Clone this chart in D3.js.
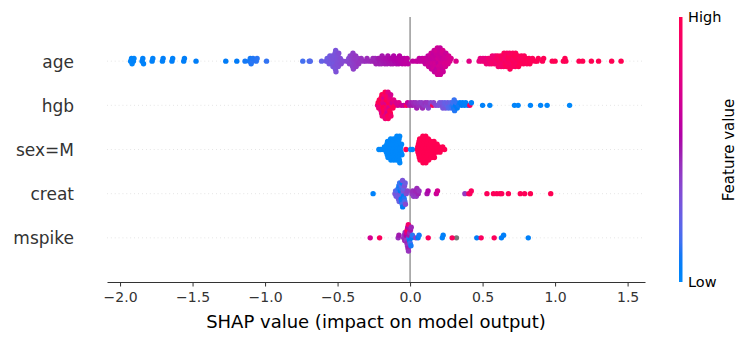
<!DOCTYPE html>
<html lang="en">
<head>
<meta charset="UTF-8">
<title>SHAP summary plot</title>
<script src="https://d3js.org/d3.v7.min.js"></script>
<style>
  body { margin: 0; background: #fff; }
  text { font-family: "DejaVu Sans", sans-serif; }
</style>
</head>
<body>
<div id="chart"></div>
<script>
// features, top row first
const features = ["age", "hgb", "sex=M", "creat", "mspike"];
const xTicks = [-2.0, -1.5, -1.0, -0.5, 0.0, 0.5, 1.0, 1.5];

// each point: [shap value, scaled feature value 0..1, null = missing]
const age = [
  [-1.927, 0.02], [-1.921, 0.03], [-1.917, 0.02], [-1.908, 0.04], [-1.904, 0.03],
  [-1.848, 0.04], [-1.843, 0.05], [-1.838, 0.04],
  [-1.779, 0.05], [-1.774, 0.04], [-1.708, 0.05], [-1.703, 0.06],
  [-1.642, 0.06], [-1.637, 0.05], [-1.561, 0.06], [-1.556, 0.07],
  [-1.476, 0.07], [-1.271, 0.08], [-1.195, 0.09], [-1.138, 0.10],
  [-1.108, 0.10], [-1.102, 0.10], [-1.096, 0.11], [-1.087, 0.12], [-1.083, 0.11],
  [-1.061, 0.12], [-1.055, 0.12], [-0.990, 0.13],
  [-0.740, 0.16], [-0.695, 0.18], [-0.688, 0.19], [-0.610, 0.24],
  [-0.578, 0.27], [-0.572, 0.26],
  [-0.566, 0.28], [-0.562, 0.27], [-0.558, 0.29], [-0.553, 0.28],
  [-0.547, 0.29], [-0.544, 0.30], [-0.540, 0.28], [-0.536, 0.30], [-0.532, 0.29],
  [-0.528, 0.30], [-0.526, 0.31], [-0.523, 0.29], [-0.521, 0.30], [-0.519, 0.32],
  [-0.517, 0.31], [-0.515, 0.30], [-0.513, 0.31], [-0.511, 0.32],
  [-0.507, 0.31], [-0.504, 0.32], [-0.501, 0.33], [-0.498, 0.32], [-0.495, 0.33], [-0.492, 0.34],
  [-0.486, 0.33], [-0.481, 0.34], [-0.475, 0.35], [-0.462, 0.35],
  [-0.436, 0.36],
  [-0.427, 0.37], [-0.423, 0.36], [-0.418, 0.38], [-0.413, 0.37],
  [-0.408, 0.38], [-0.405, 0.39], [-0.402, 0.38], [-0.399, 0.40], [-0.396, 0.39], [-0.394, 0.40], [-0.391, 0.39],
  [-0.387, 0.40], [-0.383, 0.41], [-0.379, 0.40], [-0.375, 0.42], [-0.372, 0.41],
  [-0.366, 0.42], [-0.360, 0.41], [-0.354, 0.43],
  [-0.345, 0.43], [-0.337, 0.44], [-0.322, 0.44], [-0.304, 0.45], [-0.297, 0.46], [-0.281, 0.46],
  [-0.263, 0.47], [-0.256, 0.47], [-0.246, 0.48], [-0.241, 0.47], [-0.235, 0.49],
  [-0.226, 0.48], [-0.219, 0.50], [-0.214, 0.49],
  [-0.207, 0.50], [-0.203, 0.51], [-0.198, 0.49], [-0.193, 0.51],
  [-0.186, 0.51], [-0.180, 0.52], [-0.174, 0.50],
  [-0.167, 0.52], [-0.162, 0.53], [-0.158, 0.51], [-0.153, 0.53],
  [-0.146, 0.53], [-0.139, 0.54], [-0.134, 0.52],
  [-0.127, 0.54], [-0.122, 0.55], [-0.118, 0.53], [-0.113, 0.55],
  [-0.106, 0.55], [-0.100, 0.56], [-0.094, 0.54],
  [-0.087, 0.56], [-0.082, 0.57], [-0.078, 0.55], [-0.073, 0.57],
  [-0.066, 0.57], [-0.060, 0.58], [-0.054, 0.58],
  [-0.046, 0.59], [-0.040, 0.58], [-0.034, 0.60],
  [-0.026, 0.60], [-0.020, 0.61], [-0.014, 0.60],
  [0.018, 0.61], [0.041, 0.62], [0.057, 0.62], [0.063, 0.61], [0.077, 0.63], [0.084, 0.62],
  [0.095, 0.63], [0.100, 0.64], [0.105, 0.62],
  [0.112, 0.63], [0.116, 0.65], [0.120, 0.64], [0.124, 0.62], [0.128, 0.66],
  [0.132, 0.64], [0.135, 0.63], [0.138, 0.66], [0.140, 0.65], [0.143, 0.62], [0.145, 0.67], [0.148, 0.64],
  [0.151, 0.65], [0.153, 0.63], [0.155, 0.67], [0.157, 0.64], [0.160, 0.66], [0.162, 0.62],
  [0.164, 0.68], [0.166, 0.65], [0.168, 0.63],
  [0.171, 0.66], [0.173, 0.64], [0.175, 0.68], [0.177, 0.63], [0.179, 0.67], [0.180, 0.65],
  [0.182, 0.62], [0.184, 0.69], [0.186, 0.64], [0.188, 0.66], [0.189, 0.67],
  [0.191, 0.65], [0.193, 0.68], [0.195, 0.63], [0.196, 0.66], [0.198, 0.69], [0.200, 0.64],
  [0.202, 0.67], [0.204, 0.65], [0.206, 0.70], [0.207, 0.63], [0.209, 0.66],
  [0.211, 0.68], [0.213, 0.65], [0.215, 0.70], [0.217, 0.64], [0.220, 0.67], [0.222, 0.69],
  [0.224, 0.66], [0.226, 0.71], [0.228, 0.65],
  [0.232, 0.69], [0.235, 0.67], [0.238, 0.72], [0.241, 0.68], [0.244, 0.70], [0.247, 0.66],
  [0.252, 0.71], [0.257, 0.69], [0.262, 0.72], [0.266, 0.70],
  [0.274, 0.72], [0.283, 0.71], [0.317, 0.73], [0.407, 0.76],
  [0.476, 0.80], [0.484, 0.78], [0.495, 0.82], [0.503, 0.79],
  [0.513, 0.83], [0.519, 0.80], [0.526, 0.85],
  [0.533, 0.82], [0.539, 0.86], [0.546, 0.83],
  [0.552, 0.87], [0.557, 0.84], [0.562, 0.88], [0.567, 0.85],
  [0.572, 0.89], [0.577, 0.86], [0.582, 0.90], [0.587, 0.84],
  [0.592, 0.88], [0.596, 0.91], [0.600, 0.86], [0.604, 0.92], [0.608, 0.89],
  [0.612, 0.93], [0.616, 0.87], [0.620, 0.90], [0.624, 0.94], [0.628, 0.88],
  [0.631, 0.91], [0.634, 0.95], [0.638, 0.89], [0.641, 0.93], [0.645, 0.90], [0.648, 0.96],
  [0.651, 0.92], [0.654, 0.88], [0.658, 0.95], [0.661, 0.91], [0.665, 0.97], [0.668, 0.93],
  [0.671, 0.90], [0.674, 0.96], [0.677, 0.92], [0.680, 0.98], [0.683, 0.94], [0.686, 0.91], [0.689, 0.97],
  [0.692, 0.93], [0.695, 0.96], [0.698, 0.90], [0.702, 0.98], [0.705, 0.94], [0.708, 0.95],
  [0.711, 0.97], [0.714, 0.92], [0.718, 0.96], [0.721, 0.99], [0.725, 0.94], [0.728, 0.97],
  [0.732, 0.95], [0.736, 0.98], [0.740, 0.93], [0.744, 0.97], [0.748, 0.99],
  [0.752, 0.96], [0.757, 0.94], [0.762, 0.98], [0.767, 0.97],
  [0.772, 0.99], [0.777, 0.95], [0.782, 0.98], [0.787, 0.96],
  [0.793, 0.97], [0.800, 0.99], [0.806, 0.96],
  [0.813, 0.98], [0.820, 0.97], [0.826, 0.99],
  [0.835, 0.98], [0.844, 0.97], [0.862, 0.99], [0.876, 0.98], [0.884, 0.99],
  [0.913, 0.98], [0.921, 0.99], [0.980, 0.99], [1.000, 1.00],
  [1.057, 0.99], [1.068, 1.00], [1.074, 0.99], [1.165, 1.00], [1.190, 1.00],
  [1.250, 1.00], [1.300, 1.00], [1.390, 1.00], [1.455, 1.00]
];

const hgb = [
  [-0.224, 0.80], [-0.220, 1.00], [-0.216, 0.85], [-0.212, 0.98],
  [-0.209, 0.78], [-0.207, 0.97], [-0.205, 0.88], [-0.203, 1.00], [-0.200, 0.82],
  [-0.198, 0.95], [-0.196, 0.75], [-0.194, 0.99], [-0.192, 0.86],
  [-0.189, 0.92], [-0.187, 0.76], [-0.185, 1.00], [-0.183, 0.84], [-0.181, 0.96], [-0.180, 0.72],
  [-0.178, 0.98], [-0.176, 0.88], [-0.174, 0.79], [-0.172, 0.99], [-0.171, 0.83],
  [-0.169, 0.97], [-0.167, 0.74], [-0.165, 0.93], [-0.163, 1.00], [-0.161, 0.81], [-0.160, 0.95],
  [-0.158, 0.70], [-0.156, 0.90], [-0.154, 0.98], [-0.152, 0.77], [-0.151, 0.94],
  [-0.149, 0.85], [-0.147, 0.99], [-0.145, 0.73], [-0.143, 0.91], [-0.140, 0.96],
  [-0.138, 0.80], [-0.136, 1.00], [-0.134, 0.71], [-0.132, 0.89],
  [-0.127, 0.92], [-0.123, 0.70], [-0.118, 0.97], [-0.113, 0.78],
  [-0.105, 0.96], [-0.097, 0.72], [-0.084, 0.68], [-0.077, 0.74], [-0.061, 0.66],
  [-0.043, 0.64], [-0.024, 0.97], [-0.017, 0.62],
  [-0.004, 0.52], [0.005, 0.48], [0.016, 0.50], [0.024, 0.46],
  [0.035, 0.47], [0.040, 0.44], [0.046, 0.49], [0.056, 0.45], [0.063, 0.42],
  [0.075, 0.44], [0.080, 0.40], [0.086, 0.46], [0.096, 0.41], [0.104, 0.43],
  [0.115, 0.39], [0.120, 0.42], [0.126, 0.37], [0.136, 0.40], [0.143, 0.36],
  [0.157, 0.96], [0.163, 0.38], [0.178, 0.35],
  [0.196, 0.33], [0.204, 0.30], [0.215, 0.32], [0.221, 0.28], [0.226, 0.30],
  [0.236, 0.27], [0.240, 0.24], [0.245, 0.29], [0.255, 0.22], [0.260, 0.26], [0.265, 0.20],
  [0.276, 0.18], [0.280, 0.23], [0.285, 0.16],
  [0.292, 0.12], [0.296, 0.15], [0.300, 0.10], [0.304, 0.14], [0.307, 0.11],
  [0.315, 0.09], [0.320, 0.13], [0.325, 0.08], [0.335, 0.10], [0.344, 0.07],
  [0.356, 0.08], [0.363, 0.06], [0.376, 0.07], [0.384, 0.05], [0.398, 0.06],
  [0.412, 0.95], [0.423, 0.05],
  [0.500, 0.04], [0.550, 0.03], [0.720, 0.03], [0.745, 0.02], [0.830, 0.02],
  [0.900, 0.02], [0.945, 0.01], [1.100, 0.00]
];

const sexM = [
  [-0.215, 0], [-0.203, 0], [-0.184, 0], [-0.177, 0],
  [-0.168, 0], [-0.166, 0], [-0.163, 0], [-0.160, 0], [-0.157, 0], [-0.155, 0], [-0.152, 0],
  [-0.149, 0], [-0.147, 0], [-0.145, 0], [-0.143, 0], [-0.140, 0], [-0.138, 0], [-0.136, 0], [-0.134, 0], [-0.132, 0],
  [-0.129, 0], [-0.127, 0], [-0.125, 0], [-0.123, 0], [-0.120, 0], [-0.118, 0], [-0.116, 0], [-0.114, 0], [-0.112, 0],
  [-0.109, 0], [-0.107, 0], [-0.105, 0], [-0.103, 0], [-0.101, 0], [-0.099, 0], [-0.097, 0], [-0.095, 0], [-0.093, 0], [-0.091, 0],
  [-0.089, 0], [-0.087, 0], [-0.085, 0], [-0.083, 0], [-0.081, 0], [-0.080, 0], [-0.078, 0], [-0.076, 0], [-0.074, 0], [-0.072, 0], [-0.071, 0],
  [-0.068, 0], [-0.065, 0], [-0.062, 0], [-0.059, 0], [-0.056, 0],
  [-0.028, 1], [0.004, 0], [0.016, 0],
  [0.051, 1], [0.053, 1], [0.055, 1], [0.058, 1], [0.060, 1], [0.062, 1], [0.064, 1], [0.066, 1], [0.069, 1],
  [0.071, 1], [0.073, 1], [0.075, 1], [0.077, 1], [0.079, 1], [0.080, 1], [0.082, 1], [0.084, 1], [0.086, 1], [0.088, 1], [0.089, 1],
  [0.091, 1], [0.093, 1], [0.095, 1], [0.097, 1], [0.099, 1], [0.100, 1], [0.102, 1], [0.104, 1], [0.106, 1], [0.108, 1], [0.109, 1],
  [0.111, 1], [0.113, 1], [0.115, 1], [0.117, 1], [0.120, 1], [0.122, 1], [0.124, 1], [0.126, 1], [0.128, 1],
  [0.132, 1], [0.135, 1], [0.138, 1], [0.140, 1], [0.143, 1], [0.145, 1], [0.148, 1],
  [0.152, 1], [0.155, 1], [0.158, 1], [0.160, 1], [0.163, 1], [0.165, 1], [0.168, 1],
  [0.173, 1], [0.177, 1], [0.182, 1], [0.186, 1],
  [0.194, 1], [0.200, 1], [0.206, 1], [0.215, 1], [0.225, 1], [0.238, 1]
];

const creat = [
  [-0.255, 0.04],
  [-0.104, 0.30], [-0.100, 0.22], [-0.096, 0.28],
  [-0.089, 0.32], [-0.087, 0.18], [-0.085, 0.26], [-0.082, 0.12], [-0.080, 0.30],
  [-0.077, 0.10], [-0.075, 0.24], [-0.072, 0.15],
  [-0.069, 0.34], [-0.067, 0.08], [-0.065, 0.28], [-0.063, 0.12], [-0.061, 0.06], [-0.060, 0.20],
  [-0.058, 0.10], [-0.056, 0.05], [-0.054, 0.16], [-0.052, 0.31], [-0.051, 0.09],
  [-0.049, 0.14], [-0.047, 0.30], [-0.045, 0.07], [-0.043, 0.22], [-0.040, 0.11],
  [-0.038, 0.33], [-0.036, 0.18], [-0.034, 0.27], [-0.032, 0.36],
  [-0.026, 0.35], [-0.018, 0.38],
  [0.013, 0.42], [0.018, 0.45], [0.024, 0.40], [0.034, 0.44], [0.038, 0.47],
  [0.043, 0.42], [0.047, 0.46], [0.056, 0.48], [0.062, 0.44],
  [0.117, 0.52], [0.124, 0.55], [0.181, 0.66], [0.189, 0.70],
  [0.378, 0.42], [0.405, 0.90], [0.412, 0.96], [0.422, 0.95],
  [0.530, 0.97], [0.575, 0.98], [0.598, 0.96], [0.620, 0.99], [0.632, 0.97],
  [0.678, 0.98], [0.760, 0.99], [0.790, 0.98], [0.830, 1.00], [0.970, 1.00]
];

const mspike = [
  [-0.275, 0.70], [-0.210, 0.96], [-0.082, 0.45], [-0.077, 0.50],
  [-0.044, 0.45], [-0.040, 0.42], [-0.037, 0.48], [-0.034, 0.44],
  [-0.029, 0.46], [-0.027, 0.55], [-0.025, 0.40], [-0.023, 0.72], [-0.021, 0.47], [-0.020, 0.95],
  [-0.018, 0.43], [-0.016, 0.60], [-0.014, 0.49], [-0.012, 0.88], [-0.011, 0.44],
  [-0.008, 0.12], [-0.006, 0.50], [-0.004, 0.08], [-0.002, 0.45], [0.001, 0.15],
  [0.003, 0.52], [0.006, 0.10], [0.008, 0.47],
  [0.012, 0.09], [0.016, 0.12],
  [0.040, 0.40], [0.055, 0.08], [0.062, 0.10], [0.125, 0.96], [0.222, 0.05], [0.228, 0.06],
  [0.290, 0.95], [0.320, null], [0.460, 0.08], [0.490, 0.95], [0.580, 0.96],
  [0.630, 0.07], [0.645, 0.06], [0.815, 0.05]
];

const rows = [age, hgb, sexM, creat, mspike];

const width = 750, height = 340;
const svg = d3.select("#chart").append("svg")
  .attr("width", width)
  .attr("height", height);

const x = d3.scaleLinear().domain([-2.09, 1.62]).range([107, 645]);
// row positions: bottom feature at 0, top at n-1
const y = d3.scaleLinear().domain([-1, features.length]).range([282, 17]);

// shap red_blue colormap: lch from blue to red, lightness dipping to 40 mid-way
function shapColor(t) {
  if (t === null) return "#777777";
  const l = t < 0.5 ? 54 - 28 * t : 40 + 28 * (t - 0.5);
  const c = 70 + 20 * t;
  const h = 266.93 + (380.32 - 266.93) * t;
  return d3.hcl(h, c, l).formatHex();
}

// stack points that fall in the same bin, alternating above / below the row
const binW = 0.02;
function swarm(pts) {
  const groups = d3.group(pts, d => Math.round(d[0] / binW));
  const out = [];
  let maxOff = 0;
  for (const g of groups.values()) {
    g.forEach((d, k) => {
      const off = Math.ceil(k / 2) * ((k % 2) * 2 - 1);
      maxOff = Math.max(maxOff, off);
      out.push({ s: d[0], f: d[1], off });
    });
  }
  const k = 0.9 * 0.4 / (maxOff + 1);
  out.forEach(o => o.dy = o.off * k);
  return out;
}

// dotted row guides
svg.append("g").selectAll("line")
  .data(features)
  .join("line")
  .attr("x1", x.range()[0])
  .attr("x2", x.range()[1])
  .attr("y1", (d, i) => y(features.length - 1 - i))
  .attr("y2", (d, i) => y(features.length - 1 - i))
  .attr("stroke", "#cccccc")
  .attr("stroke-width", 0.7)
  .attr("stroke-dasharray", "0.7,3.2");

// zero line
svg.append("line")
  .attr("x1", x(0)).attr("x2", x(0))
  .attr("y1", y(-1)).attr("y2", y(features.length))
  .attr("stroke", "#999999")
  .attr("stroke-width", 1.5);

// the dots
rows.forEach((pts, i) => {
  const pos = features.length - 1 - i;
  const laid = swarm(pts).sort((a, b) => (a.f === null ? -1 : 0) - (b.f === null ? -1 : 0));
  svg.append("g").selectAll("circle")
    .data(laid)
    .join("circle")
    .attr("cx", d => x(d.s))
    .attr("cy", d => y(pos + d.dy))
    .attr("r", 2.7)
    .attr("fill", d => shapColor(d.f));
});

// feature names
svg.append("g").selectAll("text")
  .data(features)
  .join("text")
  .attr("x", 74)
  .attr("y", (d, i) => y(features.length - 1 - i))
  .attr("dy", "0.38em")
  .attr("text-anchor", "end")
  .attr("font-size", "17px")
  .attr("fill", "#333333")
  .text(d => d);

// x axis
const xAxis = svg.append("g")
  .attr("transform", `translate(0,${y(-1)})`)
  .call(d3.axisBottom(x)
    .tickValues(xTicks)
    .tickFormat(d3.format(".1f"))
    .tickSize(4.5)
    .tickSizeOuter(0)
    .tickPadding(6));
xAxis.select(".domain").attr("stroke", "#333333");
xAxis.selectAll(".tick line").attr("stroke", "#333333");
xAxis.selectAll(".tick text")
  .attr("fill", "#333333")
  .attr("font-size", "14px")
  .attr("font-family", "DejaVu Sans, sans-serif");

svg.append("text")
  .attr("x", (x.range()[0] + x.range()[1]) / 2)
  .attr("y", 328)
  .attr("text-anchor", "middle")
  .attr("font-size", "18px")
  .attr("fill", "#000")
  .text("SHAP value (impact on model output)");

// colour bar
const defs = svg.append("defs");
const grad = defs.append("linearGradient")
  .attr("id", "fv-grad")
  .attr("x1", 0).attr("y1", 1).attr("x2", 0).attr("y2", 0);
d3.range(0, 1.0001, 0.05).forEach(t => {
  grad.append("stop")
    .attr("offset", t)
    .attr("stop-color", shapColor(t));
});
svg.append("rect")
  .attr("x", 679)
  .attr("y", y(features.length))
  .attr("width", 3.5)
  .attr("height", y(-1) - y(features.length))
  .attr("fill", "url(#fv-grad)");

svg.append("text")
  .attr("x", 688).attr("y", y(features.length))
  .attr("dy", "0.35em")
  .attr("font-size", "14.5px")
  .attr("fill", "#000")
  .text("High");
svg.append("text")
  .attr("x", 688).attr("y", y(-1))
  .attr("dy", "0.35em")
  .attr("font-size", "14.5px")
  .attr("fill", "#000")
  .text("Low");
svg.append("text")
  .attr("transform", "translate(729,150) rotate(-90)")
  .attr("text-anchor", "middle")
  .attr("dy", "0.35em")
  .attr("font-size", "15px")
  .attr("fill", "#000")
  .text("Feature value");
</script>
</body>
</html>
